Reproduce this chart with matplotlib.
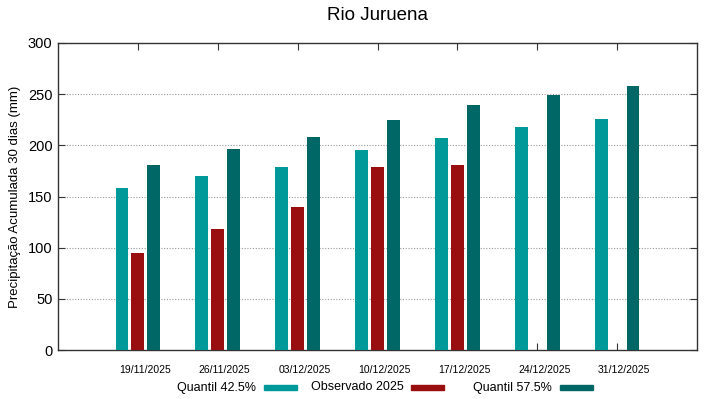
import matplotlib
matplotlib.use("Agg")
import matplotlib.pyplot as plt
from matplotlib.patches import Rectangle
import numpy as np

plt.rcParams['font.family'] = ['Liberation Sans', 'DejaVu Sans']

dates = ["19/11/2025", "26/11/2025", "03/12/2025", "10/12/2025",
         "17/12/2025", "24/12/2025", "31/12/2025"]
q425 = [158, 170, 179, 195, 207, 218, 226]
obs2025 = [95, 118, 140, 179, 181, np.nan, np.nan]
q575 = [181, 196, 208, 225, 239, 249, 258]
series_labels = ["Quantil 42.5%", "Observado 2025", "Quantil 57.5%"]
colors = ["#009999", "#990f0f", "#006766"]
title = "Rio Juruena"
ylabel = "Precipitação Acumulada 30 dias (mm)"

fig = plt.figure(figsize=(7.19, 3.99), dpi=100)
ax = fig.add_axes([58/719, 1-350/399, (697-58)/719, (350-43)/399])

x = np.arange(len(dates))
w = 0.16
off = 0.2
for vals, dx, c in zip([q425, obs2025, q575], [-off, 0, off], colors):
    v = np.array(vals, dtype=float)
    m = ~np.isnan(v)
    ax.bar(x[m] + dx, v[m], width=w, color=c, linewidth=0, zorder=3)

ax.set_xlim(-1, 7)
ax.set_ylim(0, 300)
ax.set_yticks(np.arange(0, 301, 50))
# major ticks (marks) at categories, labels on minor ticks slightly to the right (gnuplot look)
ax.set_xticks(x)
ax.set_xticklabels([])
ax.set_xticks(x + 0.0875, minor=True)
ax.set_xticklabels(dates, minor=True, fontsize=7.5)
ax.tick_params(axis='x', which='minor', length=0, pad=10.5)
ax.tick_params(axis='y', labelsize=10.5, direction='in', length=5, right=True, pad=4, color='#333333')
ax.tick_params(axis='x', which='major', direction='in', length=5, top=True, color='#333333')
for yv in range(50, 300, 50):
    ax.axhline(yv, color='#999999', linestyle=(0, (1, 1.5)), linewidth=0.8, zorder=1)
for s in ax.spines.values():
    s.set_color('#333333')
    s.set_linewidth(1.0)
fig.text(15/719, 1-196.5/399, ylabel, rotation=90, ha='center', va='center', fontsize=9.5)
fig.text(377.5/719, 1-15/399, title, ha='center', va='center', fontsize=13.5)

# legend (gnuplot style: text then sample)
text_right = [256, 404, 552]
sw_left = [264, 411, 560]
yl = 1 - 387.5/399
for lab, tr, sl, c in zip(series_labels, text_right, sw_left, colors):
    fig.text(tr/719, yl, lab, ha='right', va='center', fontsize=9)
    fig.patches.append(Rectangle((sl/719, yl - 2.5/399), 33/719, 5/399,
                                 transform=fig.transFigure, color=c, figure=fig))

fig.savefig("out.png", dpi=100)
